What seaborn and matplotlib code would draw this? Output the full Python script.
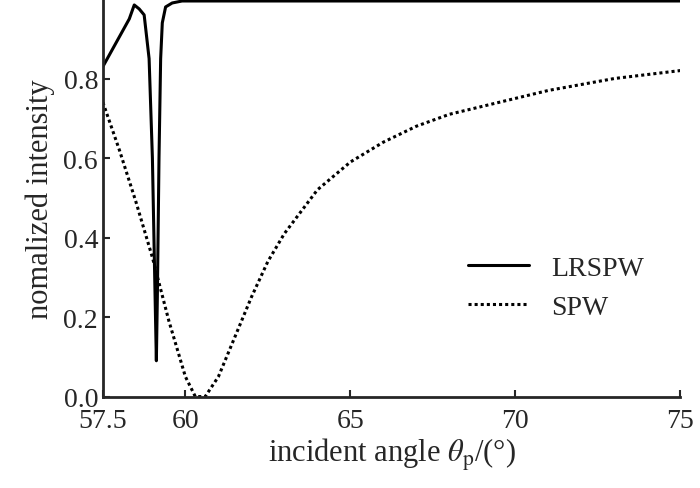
import numpy as np
import pandas as pd
import seaborn as sns
import matplotlib.pyplot as plt

# LRSPW reflectance curve
lr_angle = [57.5, 57.7, 57.9, 58.1, 58.3, 58.45, 58.6, 58.75, 58.9, 59.0, 59.07, 59.12,
            59.15, 59.2, 59.25, 59.3, 59.4, 59.6, 59.9, 60.2, 62, 65, 70, 75]
lr_int = [0.83, 0.86, 0.89, 0.92, 0.95, 0.985, 0.975, 0.96, 0.85, 0.60, 0.30, 0.09,
          0.25, 0.60, 0.85, 0.94, 0.98, 0.99, 0.995, 0.995, 0.995, 0.995, 0.995, 0.995]

# SPW reflectance curve
sp_angle = [57.5, 58.0, 58.5, 59.0, 59.5, 60.0, 60.3, 60.6, 61.0, 61.5, 62.0, 62.5,
            63.0, 64.0, 65.0, 66.0, 67.0, 68.0, 69.0, 70.0, 71.0, 72.0, 73.0, 74.0, 75.0]
sp_int = [0.74, 0.62, 0.49, 0.35, 0.19, 0.05, 0.0, 0.0, 0.05, 0.15, 0.25, 0.34,
          0.41, 0.52, 0.59, 0.64, 0.68, 0.71, 0.73, 0.75, 0.77, 0.785, 0.80, 0.81, 0.82]

lr = pd.DataFrame({"angle": lr_angle, "intensity": lr_int})
sp = pd.DataFrame({"angle": sp_angle, "intensity": sp_int})

sns.set_style("ticks")
plt.rcParams['font.family'] = ['Liberation Serif', 'DejaVu Serif']
plt.rcParams['mathtext.fontset'] = 'stix'

fig, ax = plt.subplots(figsize=(7, 4.89), dpi=100)
sns.lineplot(data=lr, x="angle", y="intensity", color="black", lw=2.2, ax=ax, label="LRSPW")
sns.lineplot(data=sp, x="angle", y="intensity", color="black", lw=2.2, ls=(0, (1, 1)),
             ax=ax, label="SPW")

ax.set_xlim(57.5, 75)
ax.set_ylim(0, 1.0)
ax.set_xticks([57.5, 60, 65, 70, 75])
ax.set_xticklabels(["57.5", "60", "65", "70", "75"])
ax.set_yticks([0.0, 0.2, 0.4, 0.6, 0.8])
ax.set_yticklabels(["0.0", "0.2", "0.4", "0.6", "0.8"])
ax.tick_params(labelsize=20, direction="in", length=5, width=1.5)
ax.tick_params(axis="x", pad=8)
ax.set_xlabel(r"incident angle $\theta_\mathrm{p}$/(°)", fontsize=22, labelpad=2)
ax.set_ylabel("nomalized intensity", fontsize=22, labelpad=6)
for side in ["top", "right"]:
    ax.spines[side].set_visible(False)
for side in ["left", "bottom"]:
    ax.spines[side].set_linewidth(2)
ax.legend(loc="lower right", bbox_to_anchor=(0.98, 0.13), frameon=False, fontsize=20,
          handlelength=2.2)

fig.subplots_adjust(left=0.147, right=0.972, bottom=0.187, top=1.0)
plt.savefig("out.png", dpi=100)
